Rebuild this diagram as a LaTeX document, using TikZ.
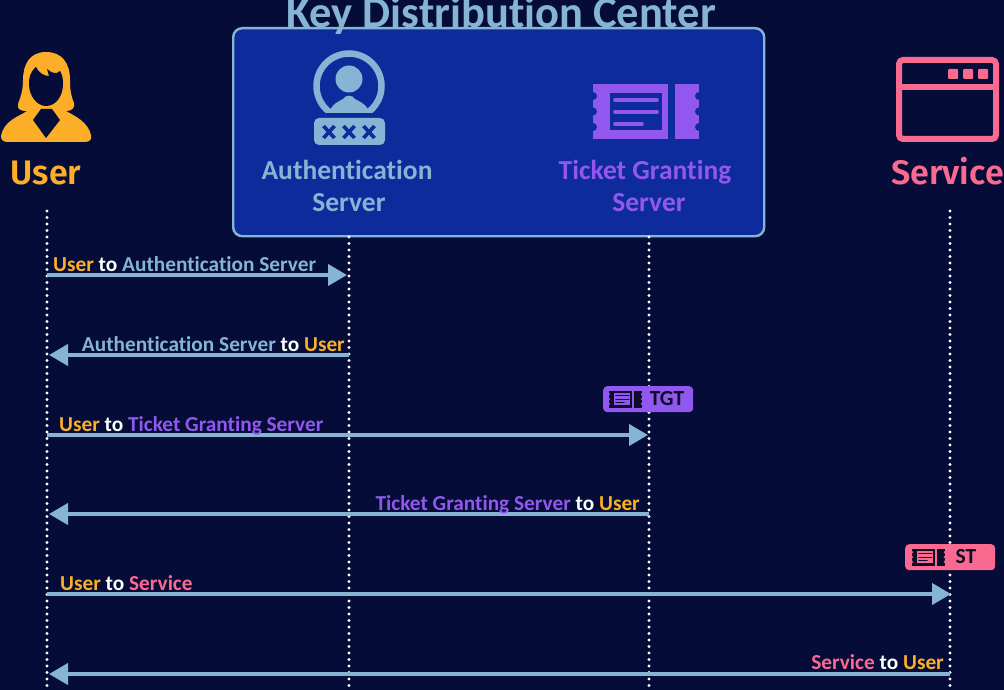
\documentclass[tikz,border=0pt]{standalone}
\usepackage{fontspec}
\setmainfont{Carlito}[Ligatures=NoCommon]
\newfontfamily\headfont{Fira Sans}[UprightFont=* Medium,BoldFont=* SemiBold]
\usetikzlibrary{arrows.meta}
\definecolor{bgnavy}{HTML}{040C37}
\definecolor{boxblue}{HTML}{0D2B9B}
\definecolor{authblue}{HTML}{86B4D4}
\definecolor{ticketpurple}{HTML}{9257EE}
\definecolor{userorange}{HTML}{FCAE28}
\definecolor{servicepink}{HTML}{FA6A90}
\definecolor{inkdark}{HTML}{0B0B2A}
\tikzset{
  lifeline/.style={white,line width=3.4pt,line cap=round,dash pattern=on 0pt off 6.5pt},
  msg/.style={authblue,line width=4pt,-{Triangle[length=19pt,width=21pt]},shorten >=-1pt},
  msglabel/.style={anchor=base west,inner sep=0pt,font=\fontsize{21.3}{23}\selectfont\bfseries},
  msglabelr/.style={anchor=base east,inner sep=0pt,font=\fontsize{21.3}{23}\selectfont\bfseries},
  actor/.style={anchor=base,inner sep=0pt,font=\headfont\fontsize{34}{36}\selectfont\bfseries},
  srv/.style={anchor=base,inner sep=0pt,font=\fontsize{27.5}{30}\selectfont\bfseries},
  badgetext/.style={anchor=base,inner sep=0pt,text=inkdark,font=\fontsize{21.5}{23}\selectfont\bfseries},
  badgebox/.style={rounded corners=4pt,inner sep=0pt,minimum height=26pt,minimum width=90pt}
}
% ticket icon: #1 shift x, #2 shift y, #3 scale, #4 ink, #5 ground; native size 106x55
\newcommand{\ticketicon}[5]{%
  \begin{scope}[shift={(#1,#2)},scale=#3]
    \fill[#4] (0,0) rectangle (75,55);
    \fill[#4] (82,0) rectangle (106,55);
    \foreach \yy in {12,27.5,43}{
      \fill[#5] (0,\yy) circle (4);
      \fill[#5] (106,\yy) circle (4);
    }
    \fill[#5] (17,9) rectangle (69,46);
    \draw[#4,line width=3.6pt*#3,line cap=round] (22,16) -- (64,16) (22,28) -- (64,28) (22,40) -- (49,40);
  \end{scope}}
\newcommand{\Us}{\textcolor{userorange}{User}}
\newcommand{\To}{\textcolor{white}{to}}
\newcommand{\Au}{\textcolor{authblue}{Authentication Server}}
\newcommand{\Tg}{\textcolor{ticketpurple}{Ticket Granting Server}}
\newcommand{\Se}{\textcolor{servicepink}{Service}}
\begin{document}
\begin{tikzpicture}[x=1pt,y=-1pt]
\useasboundingbox (0,0) rectangle (1004,690);
\clip (0,0) rectangle (1004,690);
\fill[bgnavy] (0,0) rectangle (1004,690);

% KDC box
\node[draw=authblue,fill=boxblue,line width=2.4pt,rounded corners=9pt,inner sep=0pt,
  minimum width=531pt,minimum height=208pt,anchor=north west] (kdc) at (232,27) {};
\node[anchor=base,inner sep=0pt,text=authblue,font=\fontsize{44.5}{46}\selectfont\bfseries] (title) at (501,28) {Key Distribution Center};

% lifeline coordinates
\coordinate (utop) at (47,211);
\coordinate (ubot) at (47,690);
\coordinate (atop) at (349,237);
\coordinate (abot) at (349,690);
\coordinate (ttop) at (649,237);
\coordinate (tbot) at (649,690);
\coordinate (stop) at (950,211);
\coordinate (sbot) at (950,690);
\draw[lifeline] (utop) -- (ubot);
\draw[lifeline] (atop) -- (abot);
\draw[lifeline] (ttop) -- (tbot);
\draw[lifeline] (stop) -- (sbot);

% user icon
\fill[userorange] (46,52) .. controls (30,52) and (23,64) .. (23,80)
  .. controls (23,92) and (20,98) .. (18,104)
  .. controls (17,109) and (20,111) .. (27,111)
  .. controls (20,116) and (4,120) .. (1,136)
  .. controls (1,140) and (3,142) .. (8,142) -- (85,142)
  .. controls (90,142) and (92,139) .. (91,135)
  .. controls (88,122) and (75,116) .. (66,111)
  .. controls (72,111) and (75,108) .. (74,103)
  .. controls (71,96) and (70,90) .. (70,80)
  .. controls (70,63) and (62,52) .. (46,52) -- cycle;
\fill[bgnavy] (36,67) .. controls (30,72) and (29,78) .. (29,84)
  .. controls (29,96) and (37,106) .. (46,106)
  .. controls (56,106) and (63,96) .. (63,84)
  .. controls (63,78) and (62,74) .. (60,71)
  .. controls (56,75) and (52,73) .. (47,69)
  -- (49,76) .. controls (44,76) and (39,73) .. (36,67) -- cycle;
\fill[bgnavy] (41,109) -- (52,109) -- (60,120) -- (46,138) -- (33,120) -- cycle;
\node[actor,text=userorange] (user) at (46,185) {User};

% authentication icon
\draw[authblue,line width=6.5pt] (334.25,115) arc[start angle=117,end angle=423,radius=32.5] ;
\fill[boxblue] (325,113.5) rectangle (373,118);
\fill[authblue] (349,79) circle (13.5);
\fill[authblue] (329,113) .. controls (332,103) and (340,101) .. (343,99)
  .. controls (346,94.5) and (352,94.5) .. (355,99)
  .. controls (358,101) and (366,103) .. (370,113) -- cycle;
\fill[authblue,rounded corners=5pt] (314,118) rectangle (385,145);
\foreach \xx in {329,349,369}{
  \draw[boxblue,line width=3.6pt] (\xx-5.5,126) -- (\xx+5.5,138) (\xx+5.5,126) -- (\xx-5.5,138);
}
\node[srv,text=authblue] (authA) at (347,179) {Authentication};
\node[srv,text=authblue] (authB) at (349,211) {Server};

% ticket icon
\ticketicon{593}{84}{1}{ticketpurple}{boxblue}
\node[srv,text=ticketpurple] (tgsA) at (645,179) {Ticket Granting};
\node[srv,text=ticketpurple] (tgsB) at (649,211) {Server};

% service icon
\draw[servicepink,line width=6pt,rounded corners=4pt] (899,60) rectangle (996,139);
\draw[servicepink,line width=6pt] (899,87) -- (996,87);
\fill[servicepink,rounded corners=1pt] (948,69) rectangle (958,79);
\fill[servicepink,rounded corners=1pt] (963,69) rectangle (973,79);
\fill[servicepink,rounded corners=1pt] (978,69) rectangle (988,79);
\node[actor,text=servicepink] (service) at (947.5,185) {Service};

% messages
\coordinate (m1a) at (47,275);  \coordinate (m1b) at (346,275);
\coordinate (m2a) at (349,355); \coordinate (m2b) at (50,355);
\coordinate (m3a) at (47,435);  \coordinate (m3b) at (647,435);
\coordinate (m4a) at (649,514); \coordinate (m4b) at (50,514);
\coordinate (m5a) at (47,594);  \coordinate (m5b) at (950,594);
\coordinate (m6a) at (950,674); \coordinate (m6b) at (50,674);
\draw[msg] (m1a) -- (m1b);
\draw[msg] (m2a) -- (m2b);
\draw[msg] (m3a) -- (m3b);
\draw[msg] (m4a) -- (m4b);
\draw[msg] (m5a) -- (m5b);
\draw[msg] (m6a) -- (m6b);

\node[msglabel] (l1) at (53,271) {\Us{} \To{} \Au};
\node[msglabelr] (l2) at (345,351) {\Au{} \To{} \Us};
\node[msglabel] (l3) at (59,431) {\Us{} \To{} \Tg};
\node[msglabelr] (l4) at (640,510) {\Tg{} \To{} \Us};
\node[msglabel] (l5) at (60,590) {\Us{} \To{} \Se};
\node[msglabelr] (l6) at (944,669) {\Se{} \To{} \Us};

% badges
\node[badgebox,fill=ticketpurple,anchor=north west] (tgt) at (603,386) {};
\ticketicon{609}{390.5}{0.31}{inkdark}{ticketpurple}
\node[badgetext] (tgttext) at (667,405) {TGT};
\node[badgebox,fill=servicepink,anchor=north west] (st) at (905,544) {};
\ticketicon{912}{548.5}{0.31}{inkdark}{servicepink}
\node[badgetext] (sttext) at (966,563) {ST};
\end{tikzpicture}
\end{document}
